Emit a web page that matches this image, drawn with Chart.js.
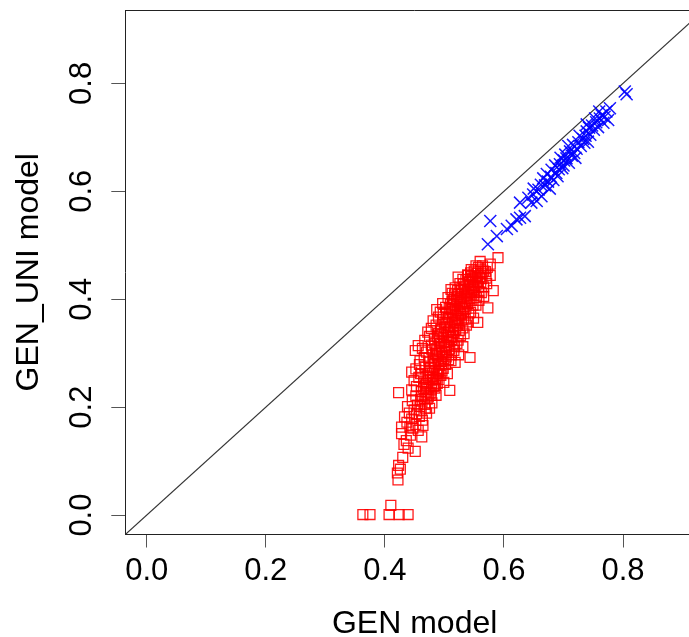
<!DOCTYPE html>
<html><head><meta charset="utf-8">
<script src="https://cdn.jsdelivr.net/npm/chart.js@4/dist/chart.umd.min.js"></script>
<style>html,body{margin:0;padding:0;background:#fff;overflow:hidden;width:689px;height:637px}#wrap{width:714px;height:637px}</style>
</head><body><div id="wrap"><canvas id="c" width="714" height="637"></canvas></div>
<script>
// GEN model (x) vs GEN_UNI model (y) — red group
const genRed = [0.363,0.375,0.407,0.424,0.439,0.410,
0.422,0.421,0.423,0.426,
0.430,0.439,0.451,0.428,0.428,0.447,0.462,0.436,0.443,0.432,
0.437,0.445,0.452,0.458,0.441,0.449,0.463,0.470,0.455,0.438,0.446,0.460,0.467,0.475,0.452,0.433,0.423,0.471,0.479,0.442,0.456,0.464,
0.445,0.453,0.461,0.468,0.476,0.484,0.449,0.457,0.465,0.472,0.480,0.488,0.494,0.445,0.452,0.460,0.467,0.475,0.483,0.490,0.498,0.505,0.458,0.471,0.486,0.499,0.509,
0.459,0.466,0.474,0.481,0.489,0.496,0.503,0.511,0.451,0.463,0.470,0.478,0.486,0.493,0.501,0.508,0.516,0.524,0.456,0.467,0.475,0.483,0.490,0.498,0.506,0.514,0.521,0.531,0.543,0.472,0.518,
0.478,0.486,0.494,0.501,0.509,0.517,0.525,0.533,0.481,0.490,0.498,0.506,0.513,0.521,0.529,0.537,0.493,0.502,0.510,0.518,0.526,0.534,0.541,0.549,0.487,0.497,0.515,0.556,0.573,
0.506,0.513,0.521,0.529,0.537,0.545,0.553,0.518,0.526,0.534,0.542,0.550,0.558,0.566,0.582,0.531,0.539,0.547,0.555,0.563,0.571,0.545,0.553,0.561,0.569,0.577,0.577,0.590,0.572,0.511,0.523,0.560,
0.462,0.469,0.474,0.479,0.482,0.487,0.491,0.494,0.497,0.501,0.504,0.509,0.512,0.515,0.519,0.522,0.526,0.528,0.532,0.536,0.539,0.543,0.546,0.549,0.553,0.556,0.559,0.563,0.566,0.570,
0.476,0.480,0.484,0.488,0.492,0.495,0.499,0.503,0.507,0.511,0.514,0.518,0.522,0.525,0.529,0.533,0.536,0.540,0.544,0.548,0.552,0.557,0.561,0.566,
0.466,0.459,0.453,0.461,0.468,0.473,0.478,0.485,0.491,0.496,0.502,0.507,0.512,0.517,0.523,0.527,0.531,0.535,0.540,0.544,0.548,0.554,0.558,0.562,
0.470,0.473,0.477,0.481,0.485,0.489,0.492,0.496,0.500,0.504,0.508,0.512,0.516,0.520,0.524,0.528,0.532,0.536,0.540,0.544,
0.478,0.482,0.486,0.491,0.495,0.499,0.503,0.507,0.511,0.515,0.519,0.523,0.527,0.531,0.535,0.539,0.543,0.547,0.551,0.555,
0.465,0.469,0.474,0.479,0.484,0.488,0.493,0.497,0.503,0.508,0.513,0.517,0.522,0.527,0.534,0.540,0.545,0.550,0.557,0.564];
const uniRed = [0.001,0.001,0.001,0.001,0.001,0.018,
0.065,0.078,0.092,0.085,
0.107,0.124,0.118,0.151,0.163,0.161,0.145,0.138,0.148,0.131,
0.172,0.178,0.168,0.183,0.189,0.195,0.176,0.189,0.204,0.201,0.212,0.214,0.205,0.198,0.221,0.182,0.227,0.215,0.208,0.163,0.157,0.166,
0.232,0.238,0.229,0.241,0.226,0.235,0.249,0.255,0.247,0.258,0.251,0.244,0.259,0.265,0.271,0.262,0.276,0.268,0.274,0.266,0.272,0.262,0.279,0.233,0.222,0.246,0.231,
0.286,0.292,0.284,0.297,0.289,0.301,0.293,0.286,0.305,0.309,0.302,0.315,0.308,0.318,0.311,0.322,0.305,0.297,0.314,0.324,0.331,0.326,0.337,0.329,0.338,0.331,0.318,0.312,0.292,0.339,0.283,
0.346,0.352,0.345,0.357,0.349,0.358,0.342,0.336,0.360,0.367,0.372,0.365,0.376,0.369,0.361,0.352,0.376,0.385,0.391,0.383,0.394,0.386,0.374,0.365,0.381,0.392,0.399,0.357,0.384,
0.403,0.411,0.405,0.416,0.408,0.398,0.389,0.421,0.429,0.423,0.432,0.425,0.414,0.405,0.416,0.437,0.445,0.439,0.448,0.438,0.429,0.455,0.462,0.456,0.451,0.444,0.465,0.477,0.459,0.418,0.441,0.470,
0.221,0.228,0.237,0.245,0.256,0.262,0.279,0.285,0.294,0.302,0.314,0.308,0.325,0.338,0.344,0.351,0.356,0.372,0.378,0.383,0.392,0.401,0.412,0.418,0.426,0.433,0.441,0.447,0.452,0.439,
0.251,0.263,0.281,0.295,0.304,0.312,0.321,0.333,0.341,0.352,0.362,0.371,0.379,0.386,0.395,0.404,0.412,0.419,0.427,0.434,0.441,0.423,0.431,0.423,
0.216,0.201,0.188,0.193,0.198,0.219,0.232,0.241,0.251,0.267,0.279,0.288,0.297,0.312,0.324,0.333,0.347,0.363,0.358,0.376,0.389,0.403,0.398,0.412,
0.244,0.262,0.273,0.286,0.299,0.311,0.323,0.335,0.347,0.356,0.367,0.381,0.389,0.398,0.409,0.419,0.428,0.436,0.444,0.449,
0.222,0.238,0.253,0.268,0.281,0.289,0.301,0.315,0.329,0.343,0.356,0.364,0.374,0.382,0.395,0.407,0.414,0.421,0.412,0.431,
0.235,0.255,0.291,0.306,0.318,0.331,0.341,0.362,0.374,0.383,0.396,0.408,0.416,0.402,0.418,0.432,0.442,0.452,0.459,0.462];
// blue group
const genBlue = [0.573,0.577,0.588,0.605,0.613,0.621,0.627,0.635,0.627,0.641,0.649,0.655,0.663,0.646,0.658,0.666,0.669,0.674,0.679,0.683,0.672,0.688,0.692,0.686,0.694,0.698,0.701,0.705,0.709,0.711,0.714,0.703,0.718,0.722,0.716,0.725,0.729,0.733,0.737,0.739,0.741,0.745,0.743,0.748,0.739,0.751,0.755,0.758,0.761,0.764,0.769,0.772,0.778,0.775,0.760,0.803,0.806,0.680,0.690,0.695,0.677,0.662,0.650,0.727,0.735,0.753,0.767,0.700,0.708,0.720];
const uniBlue = [0.502,0.545,0.517,0.530,0.536,0.548,0.551,0.554,0.579,0.588,0.594,0.582,0.591,0.579,0.603,0.624,0.611,0.618,0.627,0.621,0.632,0.634,0.641,0.648,0.650,0.643,0.657,0.661,0.653,0.674,0.666,0.668,0.671,0.679,0.686,0.691,0.684,0.697,0.703,0.711,0.692,0.705,0.718,0.722,0.724,0.714,0.728,0.719,0.735,0.741,0.738,0.748,0.754,0.732,0.748,0.785,0.780,0.640,0.628,0.662,0.605,0.612,0.605,0.703,0.690,0.735,0.727,0.648,0.684,0.662];
// reference line y = x
const diagX = [-0.1, 1.0];
const diagY = [-0.1, 1.0];
const xTicks = [0.0, 0.2, 0.4, 0.6, 0.8];
const yTicks = [0.0, 0.2, 0.4, 0.6, 0.8];
const xLimits = [-0.036, 0.936];
const yLimits = [-0.036, 0.936];

const pts = (xs, ys) => xs.map((v, i) => ({x: v, y: ys[i]}));
const FONT = "'Liberation Sans', Arial, sans-serif";

const topBorder = {
  id: 'topBorder',
  afterDraw(chart) {
    const {ctx, chartArea: a} = chart;
    ctx.save();
    ctx.strokeStyle = '#222';
    ctx.lineWidth = 1;
    ctx.beginPath();
    ctx.moveTo(a.left, Math.round(a.top) + 0.5);
    ctx.lineTo(a.right, Math.round(a.top) + 0.5);
    ctx.stroke();
    ctx.restore();
  }
};

new Chart(document.getElementById('c'), {
  type: 'scatter',
  data: {
    datasets: [
      {type: 'line', data: pts(diagX, diagY), borderColor: '#333', borderWidth: 1.2, pointRadius: 0, fill: false, order: 3},
      {data: pts(genRed, uniRed), pointStyle: 'rect', pointRadius: 7, borderColor: 'rgba(255,0,0,0.9)', backgroundColor: 'rgba(0,0,0,0)', borderWidth: 1.3, order: 2},
      {data: pts(genBlue, uniBlue), pointStyle: 'crossRot', pointRadius: 8.5, borderColor: 'rgba(0,0,255,0.9)', backgroundColor: 'rgba(0,0,0,0)', borderWidth: 1.5, order: 1}
    ]
  },
  options: {
    responsive: false,
    animation: false,
    events: [],
    layout: {padding: {top: 8, right: 0, bottom: 0, left: 0}},
    plugins: {legend: {display: false}, tooltip: {enabled: false}},
    scales: {
      x: {
        type: 'linear', min: xLimits[0], max: xLimits[1],
        afterBuildTicks: s => { s.ticks = xTicks.map(v => ({value: v})); },
        afterFit: s => { s.height = 102.5; s.paddingLeft = 0; s.paddingRight = 0; },
        ticks: {font: {family: FONT, size: 31}, color: '#000', padding: 5, callback: v => v.toFixed(1), maxRotation: 0, autoSkip: false},
        grid: {display: true, drawOnChartArea: false, drawTicks: true, tickLength: 13, color: '#555'},
        border: {display: true, color: '#222', width: 1},
        title: {display: true, text: 'GEN model', font: {family: FONT, size: 32, lineHeight: 1}, color: '#000', padding: {top: 0, bottom: -3}}
      },
      y: {
        type: 'linear', min: yLimits[0], max: yLimits[1],
        afterBuildTicks: s => { s.ticks = yTicks.map(v => ({value: v})); },
        afterFit: s => { s.width = 125.3; s.paddingTop = 0; s.paddingBottom = 0; },
        ticks: {font: {family: FONT, size: 31}, color: '#000', padding: 7, callback: v => v.toFixed(1), minRotation: 90, maxRotation: 90, crossAlign: 'center', autoSkip: false},
        grid: {display: true, drawOnChartArea: false, drawTicks: true, tickLength: 14, color: '#555'},
        border: {display: true, color: '#222', width: 1},
        title: {display: true, text: 'GEN_UNI model', font: {family: FONT, size: 32, lineHeight: 1}, color: '#000', padding: {top: 13, bottom: 0}}
      }
    }
  },
  plugins: [topBorder]
});
</script>
</body></html>
